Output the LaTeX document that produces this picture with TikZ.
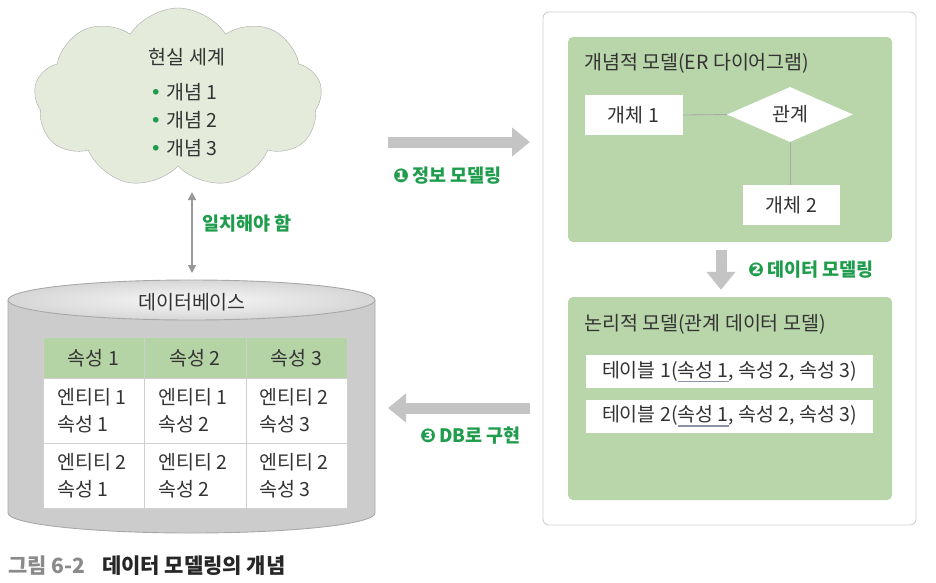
\documentclass[tikz,border=0pt]{standalone}
\usepackage{fontspec}
\setmainfont{Noto Sans CJK KR}
\newfontfamily\dv{DejaVu Sans}
\usetikzlibrary{arrows.meta,shapes.geometric,shapes.symbols}
\definecolor{cloudfill}{HTML}{E4EBDB}
\definecolor{linegray}{HTML}{A8A8A8}
\definecolor{boxgreen}{HTML}{B9D5AA}
\definecolor{hdrgreen}{HTML}{B5D4A6}
\definecolor{txt}{HTML}{333333}
\definecolor{lblgreen}{HTML}{1F9C4C}
\definecolor{arrowgray}{HTML}{C4C4C4}
\definecolor{ulc}{HTML}{8A93A6}
\definecolor{panelborder}{HTML}{D0D0D0}
\definecolor{gridc}{HTML}{CFCFCF}
\definecolor{capgray}{HTML}{8A8A8A}
\newcommand\myul[1]{\setbox0\hbox{#1}\rlap{\textcolor{ulc}{\rule[-5pt]{\wd0}{1.1pt}}}\box0}
\newcommand\cnum[1]{{\dv\fontsize{19}{19}\selectfont #1}}
\tikzset{
  every node/.style={font=\fontsize{19.5}{22}\selectfont, text=txt},
  lbl/.style={font=\bfseries\fontsize{18.5}{20}\selectfont, text=lblgreen, inner sep=0pt, anchor=west},
  wbox/.style={fill=white, inner sep=0pt},
  bigarrow/.style={draw=arrowgray, line width=11pt, -{Triangle[width=28pt,length=18pt]}},
  thinline/.style={draw=linegray, line width=0.8pt},
  cell/.style={anchor=west, align=left, inner sep=0pt, font=\fontsize{19.5}{27}\selectfont},
}
\begin{document}
\begin{tikzpicture}[x=1pt,y=-1pt]
\useasboundingbox (0,0) rectangle (936,582);
% cloud
\node[cloud, draw=linegray, fill=cloudfill, cloud puffs=9, cloud puff arc=115, minimum width=288pt, minimum height=180pt, inner sep=0pt] (cloud) at (178,98) {};
\node (real) at (187,57) {현실 세계};
\node[anchor=west, inner sep=0pt] (c1) at (150,92) {{\dv\textcolor{lblgreen}{•}}\ 개념 1};
\node[anchor=west, inner sep=0pt] (c2) at (150,120) {{\dv\textcolor{lblgreen}{•}}\ 개념 2};
\node[anchor=west, inner sep=0pt] (c3) at (150,148) {{\dv\textcolor{lblgreen}{•}}\ 개념 3};
% double arrow
\coordinate (da1) at (192,192);
\coordinate (da2) at (192,273);
\draw[draw=gray!80, line width=1.6pt, {Triangle[width=8pt,length=8pt]}-{Triangle[width=8pt,length=8pt]}] (da1) -- (da2);
\node[lbl] (l4) at (202,224) {일치해야 함};
% cylinder
\path[left color=black!20, middle color=black!4, right color=black!20] (8,300) -- (8,513) arc[start angle=180,end angle=360,x radius=183.5pt,y radius=20pt] -- (375,300) arc[start angle=0,end angle=180,x radius=183.5pt,y radius=20pt] -- cycle;
\draw[linegray, line width=0.9pt] (8,300) -- (8,513) arc[start angle=180,end angle=360,x radius=183.5pt,y radius=20pt] -- (375,300);
\draw[linegray, line width=0.9pt, inner color=black!3, outer color=black!16] (191.5,300) ellipse[x radius=183.5pt, y radius=20pt];
\node (dbt) at (192,302) {데이터베이스};
% table
\path[fill=hdrgreen] (43,337) rectangle (347,378);
\path[fill=white] (43,378) rectangle (347,508);
\draw[gridc, line width=0.8pt] (43,337) rectangle (347,508);
\draw[gridc, line width=0.8pt] (144,337) -- (144,508) (246,337) -- (246,508) (43,378) -- (347,378) (43,443) -- (347,443);
\node (h1) at (93.5,358) {속성 1};
\node (h2) at (195,358) {속성 2};
\node (h3) at (296.5,358) {속성 3};
\node[cell] (a1) at (57,411) {엔티티 1\\속성 1};
\node[cell] (a2) at (158,411) {엔티티 1\\속성 2};
\node[cell] (a3) at (259,411) {엔티티 2\\속성 3};
\node[cell] (b1) at (57,476) {엔티티 2\\속성 1};
\node[cell] (b2) at (158,476) {엔티티 2\\속성 2};
\node[cell] (b3) at (259,476) {엔티티 2\\속성 3};
% right panel
\draw[panelborder, fill=white, rounded corners=6pt, line width=0.9pt] (543,12) rectangle (916,525);
\node[fill=boxgreen, rounded corners=5pt, minimum width=324pt, minimum height=205pt, inner sep=0pt] (m1) at (730,139.5) {};
\node[fill=boxgreen, rounded corners=5pt, minimum width=324pt, minimum height=203pt, inner sep=0pt] (m2) at (730,398.5) {};
\node[anchor=west, inner sep=0pt] (m1t) at (584,63) {개념적 모델(ER 다이어그램)};
\node[anchor=west, inner sep=0pt] (m2t) at (584,324) {논리적 모델(관계 데이터 모델)};
\node[wbox, minimum width=98pt, minimum height=40pt] (e1) at (633.5,115) {개체 1};
\node[diamond, fill=white, minimum width=126pt, minimum height=55pt, inner sep=0pt] (rel) at (790,114.5) {관계};
\node[wbox, minimum width=97pt, minimum height=40pt] (e2) at (791.5,205) {개체 2};
\draw[thinline] (e1.east) -- (rel.west);
\draw[thinline] (rel.south) -- (rel.south |- e2.north);
\node[wbox, minimum width=287pt, minimum height=33pt] (t1) at (729.5,371.5) {테이블 1(\myul{속성 1}, 속성 2, 속성 3)};
\node[wbox, minimum width=287pt, minimum height=33pt] (t2) at (729.5,416) {테이블 2(\myul{속성 1}, 속성 2, 속성 3)};
% arrows
\coordinate (ra1) at (388,142);
\coordinate (ra2) at (530,142);
\draw[bigarrow] (ra1) -- (ra2);
\node[lbl] (l1) at (393,176) {\cnum{❶}\,정보 모델링};
\draw[bigarrow] ([xshift=-9pt,yshift=-8pt]m1.south) -- ([xshift=-9pt,yshift=7pt]m2.north);
\node[lbl] (l2) at (748,270) {\cnum{❷}\,데이터 모델링};
\coordinate (la1) at (530,408);
\coordinate (la2) at (388,408);
\draw[bigarrow] (la1) -- (la2);
\node[lbl] (l3) at (420,436) {\cnum{❸}\,DB로 구현};
% caption
\node[anchor=west, inner sep=0pt, font=\bfseries\fontsize{21}{23}\selectfont, text=black!85] (cap) at (8,566) {\textcolor{capgray}{그림 6-2}\hspace{0.8em}데이터 모델링의 개념};
\end{tikzpicture}
\end{document}
